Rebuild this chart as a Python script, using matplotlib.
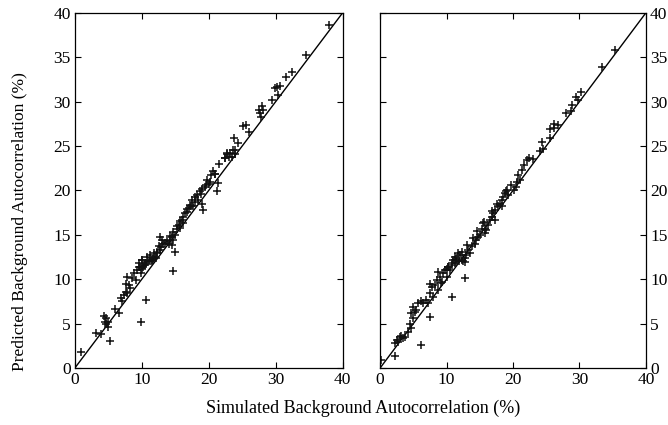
import matplotlib
matplotlib.use("Agg")
import matplotlib.pyplot as plt

plt.rcParams['font.family'] = ['Liberation Serif', 'DejaVu Serif']

# Left panel data (simulated, predicted)
left_x = [37.9, 34.5, 32.4, 31.6, 30.7, 30.2, 29.9, 30.4, 29.4, 27.96, 27.5, 28.1, 27.7, 27.8,
          25.1, 25.6, 26.0, 23.8, 24.4, 23.6, 23.9, 23.2, 22.7, 23.9, 22.4, 23.4,
          22.7, 23.0, 22.4, 21.6, 20.6, 20.9, 20.4, 19.8, 20.2, 21.4, 19.6, 21.2,
          19.0, 18.7, 18.2, 17.96, 18.4, 19.0, 19.2, 17.5, 17.2, 17.0, 17.7, 16.7, 16.5,
          16.2, 16.0, 15.7, 16.2, 15.5, 15.2, 15.7, 14.7, 15.0, 14.5, 14.2, 14.7, 14.0, 14.5,
          15.0, 12.7, 13.0, 13.2, 12.5, 12.7, 12.2, 12.0, 11.7, 11.5, 11.0, 10.7, 10.5, 10.2,
          10.0, 9.75, 14.6, 0.9, 3.1, 3.9, 5.3, 4.4, 4.6, 4.9, 4.5, 5.0, 4.7, 6.0, 6.6,
          6.9, 7.1, 7.4, 7.6, 7.85, 7.6, 8.1, 8.25, 7.85, 8.6, 8.85, 9.1, 9.3, 9.6, 9.85,
          10.1, 10.3, 9.6, 10.1, 10.6, 9.85, 10.8, 11.3, 11.8, 12.1, 12.3, 11.6,
          13.5, 13.8, 14.2, 16.8, 17.4, 18.0, 18.8, 19.5, 20.0, 21.0, 11.2, 12.9, 15.3]
left_y = [38.6, 35.2, 33.3, 32.8, 31.8, 31.6, 31.5, 30.7, 30.2, 29.5, 29.1, 29.0, 28.7, 28.3,
          27.2, 27.4, 26.6, 25.9, 25.3, 24.6, 24.5, 24.2, 24.1, 24.1, 23.6, 23.8,
          24.2, 23.8, 23.6, 23.0, 22.2, 21.9, 21.7, 21.2, 21.0, 20.8, 20.6, 19.9,
          20.2, 19.9, 19.5, 19.3, 18.9, 18.5, 17.8, 18.9, 18.4, 18.0, 18.2, 17.6, 17.4,
          17.0, 16.7, 16.5, 16.3, 16.1, 15.7, 15.8, 15.3, 15.0, 14.8, 14.4, 14.4, 14.0, 13.85,
          13.1, 14.8, 14.4, 14.0, 13.7, 13.3, 12.9, 12.5, 12.3, 12.2, 12.0, 11.8, 11.6, 11.4,
          12.2, 11.4, 10.9, 1.8, 3.97, 3.83, 3.1, 5.9, 5.6, 5.2, 5.2, 4.65, 4.95, 6.7, 6.2,
          7.85, 7.5, 8.2, 8.6, 8.4, 9.5, 9.35, 9.0, 10.3, 10.1, 10.7, 9.9, 11.0, 11.4, 10.7,
          11.2, 11.6, 11.8, 12.2, 7.7, 5.2, 12.5, 12.7, 12.9, 12.35, 13.1, 12.0,
          14.1, 14.3, 14.9, 17.9, 18.2, 18.7, 19.6, 20.4, 20.7, 21.8, 12.1, 13.6, 16.0]

# Right panel data (simulated, predicted)
right_x = [35.4, 33.4, 30.25, 29.5, 29.75, 28.8, 28.7, 28.0, 26.8, 26.2, 25.6, 26.1, 25.6,
           24.3, 24.5, 24.1, 22.4, 23.0, 22.1, 21.7, 21.3, 20.8, 21.05, 20.65, 20.4, 20.15,
           19.05, 18.8, 19.3, 18.5, 18.3, 18.0, 17.8, 18.3, 17.3, 17.0, 16.8, 17.3, 16.5,
           16.3, 15.8, 16.0, 15.5, 15.3, 15.8, 15.0, 14.8, 14.5, 14.3, 13.8, 13.3, 13.5,
           13.0, 12.8, 12.3, 11.8, 11.3, 10.8, 10.2, 10.0, 12.5, 0.1, 2.2, 2.2, 2.5, 3.0,
           3.2, 3.5, 2.7, 3.7, 4.2, 4.7, 4.5, 5.0, 4.7, 5.2, 5.45, 5.0, 6.2, 5.7, 6.2, 6.45,
           6.95, 7.2, 7.5, 8.0, 7.5, 7.5, 7.75, 8.25, 8.5, 8.75, 9.0, 9.25, 8.75, 9.5, 9.75,
           10.0, 10.2, 10.5, 10.75, 11.0, 11.25, 11.5, 12.0, 11.75, 12.3, 10.75, 12.7, 12.7,
           14.0, 15.6, 16.9, 18.9, 9.1, 11.4, 13.1, 14.6, 17.6, 19.7]
right_y = [35.8, 33.9, 31.1, 30.5, 30.2, 29.6, 28.9, 28.7, 27.4, 27.5, 26.9, 27.0, 25.9,
           25.4, 24.7, 24.4, 23.6, 23.5, 23.4, 22.9, 22.3, 21.7, 21.2, 21.0, 20.4, 20.0,
           20.0, 19.7, 19.5, 19.3, 18.9, 18.5, 18.2, 18.2, 17.8, 17.4, 17.0, 16.7, 16.7,
           16.1, 15.7, 15.5, 16.3, 15.7, 15.2, 15.0, 14.8, 14.4, 14.0, 13.7, 13.3, 12.9,
           12.7, 12.35, 12.2, 12.0, 11.8, 11.6, 11.4, 11.2, 12.0, 0.9, 1.35, 2.8, 3.15, 3.45,
           3.6, 3.35, 2.96, 3.5, 4.1, 4.5, 5.0, 5.6, 6.2, 6.3, 6.5, 6.9, 2.6, 7.3, 7.5, 7.3,
           7.7, 7.3, 8.4, 8.0, 5.8, 9.5, 9.15, 9.35, 9.9, 8.8, 10.3, 9.7, 10.8, 10.7, 11.0,
           10.3, 11.4, 11.0, 11.8, 12.2, 12.5, 12.0, 12.7, 12.9, 13.1, 8.0, 10.1, 11.9,
           14.6, 16.4, 17.7, 19.9, 9.6, 12.3, 13.9, 15.4, 18.5, 20.6]

line_x = [0, 40]
line_y = [0, 40]
x_ticks = [0, 10, 20, 30, 40]
y_ticks = [0, 5, 10, 15, 20, 25, 30, 35, 40]

fig = plt.figure(figsize=(6.68, 4.25), dpi=100)
ax1 = fig.add_axes([0.112, 0.134, 0.401, 0.836])
ax2 = fig.add_axes([0.569, 0.134, 0.398, 0.836])

for ax, xs, ys in ((ax1, left_x, left_y), (ax2, right_x, right_y)):
    ax.plot(line_x, line_y, color='black', lw=1.0)
    ax.plot(xs, ys, linestyle='none', marker='+', color='#111111', ms=6, mew=1.1)
    ax.set_xlim(0, 40)
    ax.set_ylim(0, 40)
    ax.set_xticks(x_ticks)
    ax.set_yticks(y_ticks)
    ax.tick_params(direction='in', length=4, width=0.8, top=True, right=True,
                   labelsize=12.5, pad=3)
    for s in ax.spines.values():
        s.set_linewidth(0.9)

ax2.tick_params(labelleft=False, labelright=True)

fig.text(0.030, 0.478, 'Predicted Background Autocorrelation (%)', rotation=90,
         ha='center', va='center', fontsize=12.5)
fig.text(0.543, 0.018, 'Simulated Background Autocorrelation (%)', ha='center', va='bottom', fontsize=13)

fig.savefig('out.png', dpi=100)
